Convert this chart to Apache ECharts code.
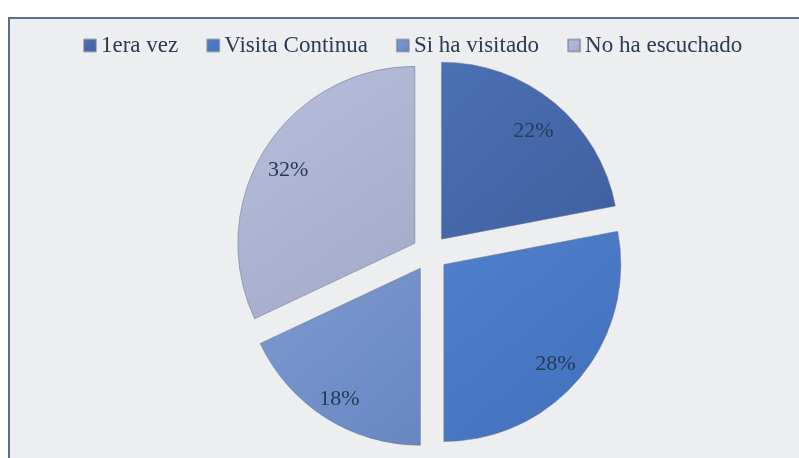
<!DOCTYPE html>
<html>
<head>
<meta charset="utf-8">
<script src="https://cdn.jsdelivr.net/npm/echarts@6/dist/echarts.min.js"></script>
<style>
  html, body { margin: 0; padding: 0; background: #fff; }
  #chart { width: 799px; height: 458px; }
</style>
</head>
<body>
<div id="chart"></div>
<script>
// visit categories, percent shares, slice colours
const categories = ['1era vez', 'Visita Continua', 'Si ha visitado', 'No ha escuchado'];
const shares = [22, 28, 18, 32];
const sliceColors = ['#4c70b5', '#5080cd', '#7d9ad2', '#b8bedb'];
const edgeColors = ['#3f609f', '#4170bb', '#6886c0', '#a2aac9'];

function shade(i) {
    return {
        type: 'linear', x: 0, y: 0, x2: 1, y2: 1,
        colorStops: [
            { offset: 0, color: sliceColors[i] },
            { offset: 1, color: edgeColors[i] }
        ]
    };
}

const chart = echarts.init(document.getElementById('chart'));
const serif = '"Liberation Serif", "DejaVu Serif", serif';
const CENTER = [430, 253];
const R = 177;
const OFFSET = 18;

chart.setOption({
    backgroundColor: '#ffffff',
    animation: false,
    graphic: [{
        type: 'rect', silent: true, z: -10,
        shape: { x: 9, y: 18, width: 820, height: 460 },
        style: { fill: '#eceef0', stroke: '#5d6e8c', lineWidth: 2 }
    }],
    legend: {
        top: 29, left: 78,
        itemWidth: 12, itemHeight: 12, itemGap: 28,
        icon: 'rect',
        textStyle: { fontFamily: serif, fontSize: 23, color: '#2b3a52' },
        data: categories
    },
    series: [{
        type: 'pie',
        center: CENTER,
        radius: R,
        startAngle: 90,
        selectedMode: 'multiple',
        selectedOffset: OFFSET,
        label: { show: false },
        labelLine: { show: false },
        itemStyle: { borderColor: 'rgba(110,120,145,0.55)', borderWidth: 1 },
        emphasis: { disabled: true },
        data: categories.map((name, i) => ({
            name, value: shares[i], selected: true,
            itemStyle: { color: shade(i) }
        }))
    }, {
        // transparent ring used only to place the percent labels
        type: 'pie',
        center: CENTER,
        radius: [112, R],
        startAngle: 90,
        silent: true,
        selectedMode: 'multiple',
        selectedOffset: OFFSET,
        itemStyle: { color: 'rgba(0,0,0,0)' },
        label: {
            show: true, position: 'inside',
            // empty first line nudges the text a few px down
            formatter: p => '{gap|}\n{v|' + shares[p.dataIndex] + '%}',
            rich: {
                gap: { height: 12, lineHeight: 12 },
                v: { fontFamily: serif, fontSize: 22, color: '#243a55', lineHeight: 24, padding: [0, 4, 0, 0] }
            }
        },
        labelLine: { show: false },
        emphasis: { disabled: true },
        data: categories.map((name, i) => ({ name, value: shares[i], selected: true }))
    }]
});
</script>
</body>
</html>
